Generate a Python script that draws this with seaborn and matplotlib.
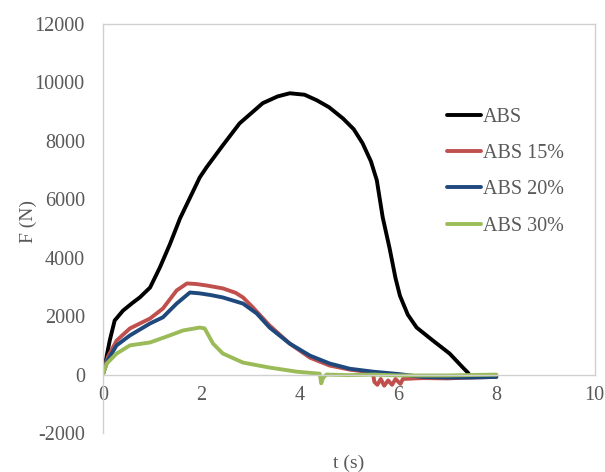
import pandas as pd
import numpy as np
import matplotlib
matplotlib.use("Agg")
import matplotlib.pyplot as plt
import seaborn as sns

## values (t in s, F in N)
t_abs = [0, 0.05, 0.14, 0.24, 0.41, 0.6, 0.75, 0.96, 1.16, 1.36, 1.57, 1.77, 1.97, 2.11,
         2.44, 2.78, 3.25, 3.55, 3.80, 4.1, 4.35, 4.6, 4.88, 5.1, 5.28, 5.45, 5.57, 5.69,
         5.83, 5.95, 6.04, 6.2, 6.38, 6.71, 7.05, 7.32, 7.42, 7.45]
f_abs = [0, 400, 1165, 1850, 2190, 2450, 2640, 2980, 3670, 4450, 5350, 6050, 6750, 7100,
         7850, 8600, 9290, 9520, 9630, 9580, 9390, 9150, 8770, 8400, 7920, 7300, 6650, 5380,
         4320, 3300, 2700, 2050, 1610, 1165, 720, 240, 70, 0]

t_abs15 = [0, 0.1, 0.28, 0.55, 0.96, 1.22, 1.50, 1.71, 1.9, 2.11, 2.44, 2.7, 2.85, 3.05,
           3.39, 3.80, 4.21, 4.61, 5.02, 5.49, 5.52, 5.58, 5.65, 5.72, 5.8, 5.88, 5.95,
           6.05, 6.1, 6.5, 7.0, 7.5, 8.0]
f_abs15 = [0, 600, 1165, 1580, 1920, 2260, 2880, 3120, 3100, 3050, 2950, 2800, 2640, 2300,
           1680, 1060, 580, 310, 170, 70, -250, -350, -150, -380, -200, -350, -150,
           -320, -150, -120, -130, -100, -80]

t_abs20 = [0, 0.1, 0.28, 0.55, 0.96, 1.22, 1.50, 1.77, 1.97, 2.2, 2.44, 2.85, 3.13, 3.39,
           3.80, 4.21, 4.61, 5.02, 5.49, 6.0, 6.5, 7.0, 7.5, 8.0]
f_abs20 = [0, 500, 1000, 1340, 1750, 1960, 2430, 2810, 2780, 2720, 2640, 2430, 2090, 1610,
           1060, 650, 380, 200, 100, 20, -80, -100, -100, -80]

t_abs30 = [0, 0.08, 0.28, 0.55, 0.96, 1.36, 1.63, 1.97, 2.07, 2.24, 2.44, 2.85, 3.39, 3.94,
           4.41, 4.44, 4.48, 4.55, 5.0, 5.5, 6.0, 7.0, 8.0]
f_abs30 = [0, 380, 720, 1000, 1100, 1340, 1510, 1610, 1580, 1060, 720, 410, 240, 100,
           30, -300, -100, 0, -20, 0, -30, -30, 0]

labels = ["ABS", "ABS 15%", "ABS 20%", "ABS 30%"]
colors = ["#000000", "#C0504D", "#1F497D", "#9BBB59"]

frames = []
for lab, t, f in zip(labels, [t_abs, t_abs15, t_abs20, t_abs30],
                     [f_abs, f_abs15, f_abs20, f_abs30]):
    frames.append(pd.DataFrame({"t": t, "F": f, "series": lab}))
df = pd.concat(frames, ignore_index=True)

## style
sns.set_style("white")
plt.rcParams['font.family'] = ['Liberation Serif', 'DejaVu Serif']
plt.rcParams['axes.unicode_minus'] = False
grey = "#595959"
edge = "#D0D0D0"

fig = plt.figure(figsize=(6.05, 4.72), dpi=100)
ax = fig.add_axes([0.170, 0.0826, 0.813, 0.8665])

sns.lineplot(data=df, x="t", y="F", hue="series", hue_order=labels,
             palette=dict(zip(labels, colors)), sort=False, estimator=None,
             linewidth=2.8, ax=ax)
for line in ax.get_lines():
    line.set_solid_capstyle("round")
    line.set_solid_joinstyle("round")

ax.set_xlim(0, 10)
ax.set_ylim(-2000, 12000)
ax.set_xticks(np.arange(0, 11, 2))
ax.set_yticks(np.arange(-2000, 12001, 2000))

## excel like frame: x axis crosses at 0
ax.spines['bottom'].set_position(('data', 0))
ax.spines['right'].set_bounds(0, 12000)
for s in ax.spines.values():
    s.set_color(edge)
    s.set_linewidth(1.0)
    s.set_visible(True)

ax.tick_params(axis='y', length=0, pad=13, labelsize=14.5, labelcolor=grey)
ax.tick_params(axis='x', length=0, pad=8, labelsize=14.5, labelcolor=grey)

ax.set_xlabel("t (s)", fontsize=14, color=grey, va='center')
ax.xaxis.set_label_coords(0.5, -0.073)
ax.set_ylabel("F (N)", fontsize=14, color=grey, va='center')
ax.yaxis.set_label_coords(-0.152, 0.516)

leg = ax.legend(loc="upper left", bbox_to_anchor=(0.699, 0.795), frameon=False,
                fontsize=14.5, handlelength=1.7, handletextpad=0.1,
                labelspacing=0.85, borderpad=0, borderaxespad=0)
for txt in leg.get_texts():
    txt.set_color(grey)
for h in leg.get_lines():
    h.set_linewidth(2.8)

plt.savefig("out.png", dpi=100)
